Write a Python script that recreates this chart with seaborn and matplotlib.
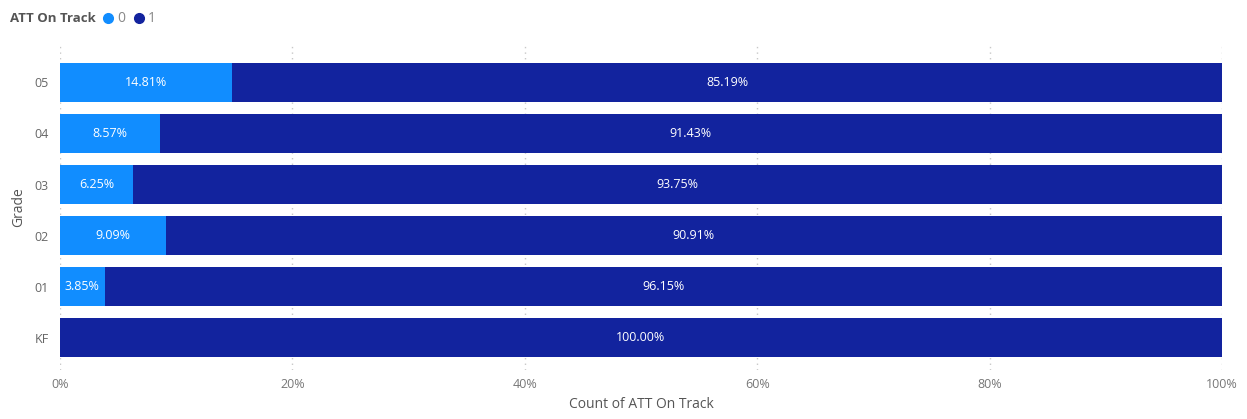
import matplotlib
matplotlib.use("Agg")
import matplotlib.pyplot as plt
import seaborn as sns
import pandas as pd
from matplotlib.lines import Line2D

grades = ["05", "04", "03", "02", "01", "KF"]
pct_off_track = [14.81, 8.57, 6.25, 9.09, 3.85, 0.0]
pct_on_track = [85.19, 91.43, 93.75, 90.91, 96.15, 100.00]
x_ticks = [0, 20, 40, 60, 80, 100]

c0 = "#118DFF"
c1 = "#12239E"

sns.set_theme(style="white")
plt.rcParams["font.family"] = ["Open Sans", "DejaVu Sans"]

df = pd.DataFrame({"Grade": grades, "off": pct_off_track, "on": pct_on_track})
df["total"] = df["off"] + df["on"]

fig = plt.figure(figsize=(12.47, 4.19), dpi=100)
ax = fig.add_axes([60 / 1247, 1 - 370 / 419, (1222 - 60) / 1247, 325 / 419])

# stacked bars: full width in the "1" colour, then the "0" share over it
sns.barplot(data=df, y="Grade", x="total", order=grades, color=c1,
            orient="h", width=0.765, saturation=1, linewidth=0, ax=ax, zorder=2)
sns.barplot(data=df, y="Grade", x="off", order=grades, color=c0,
            orient="h", width=0.765, saturation=1, linewidth=0, ax=ax, zorder=3)

for i, (a, b) in enumerate(zip(pct_off_track, pct_on_track)):
    if a > 0:
        ax.text(a / 2, i, f"{a:.2f}%", color="white", ha="center", va="center",
                fontsize=9, zorder=5)
    ax.text(a + b / 2, i, f"{b:.2f}%", color="white", ha="center", va="center",
            fontsize=9, zorder=5)

ax.set_xlim(0, 100)
ax.set_ylim(5.63, -0.73)
ax.set_xticks(x_ticks)
ax.set_xticklabels([f"{t}%" for t in x_ticks], color="#777777", fontsize=9)
ax.tick_params(axis="y", labelcolor="#666666", labelsize=9, length=0, pad=8)
ax.tick_params(axis="x", length=0, pad=6)
ax.xaxis.grid(True, linestyle=(0, (1, 3)), color="#C8C8C8", linewidth=1, zorder=0)
ax.yaxis.grid(False)
for s in ax.spines.values():
    s.set_visible(False)

ax.set_xlabel("Count of ATT On Track", color="#555555", fontsize=10, labelpad=4)
ax.set_ylabel("Grade", color="#555555", fontsize=10, labelpad=6)

# legend across the top
handles = [Line2D([], [], marker="o", linestyle="", markersize=7, color=c0),
           Line2D([], [], marker="o", linestyle="", markersize=7, color=c1)]
fig.text(10 / 1247, 1 - 19 / 419, "ATT On Track", fontsize=9.5, fontweight="bold",
         color="#555555", va="center", ha="left")
leg = fig.legend(handles, ["0", "1"], loc="center left",
                 bbox_to_anchor=(101 / 1247, 1 - 19 / 419), ncol=2, frameon=False,
                 handletextpad=0.15, columnspacing=0.5, handlelength=1.0,
                 fontsize=10, borderaxespad=0, borderpad=0)
for t in leg.get_texts():
    t.set_color("#888888")

fig.savefig("out.png", dpi=100)
